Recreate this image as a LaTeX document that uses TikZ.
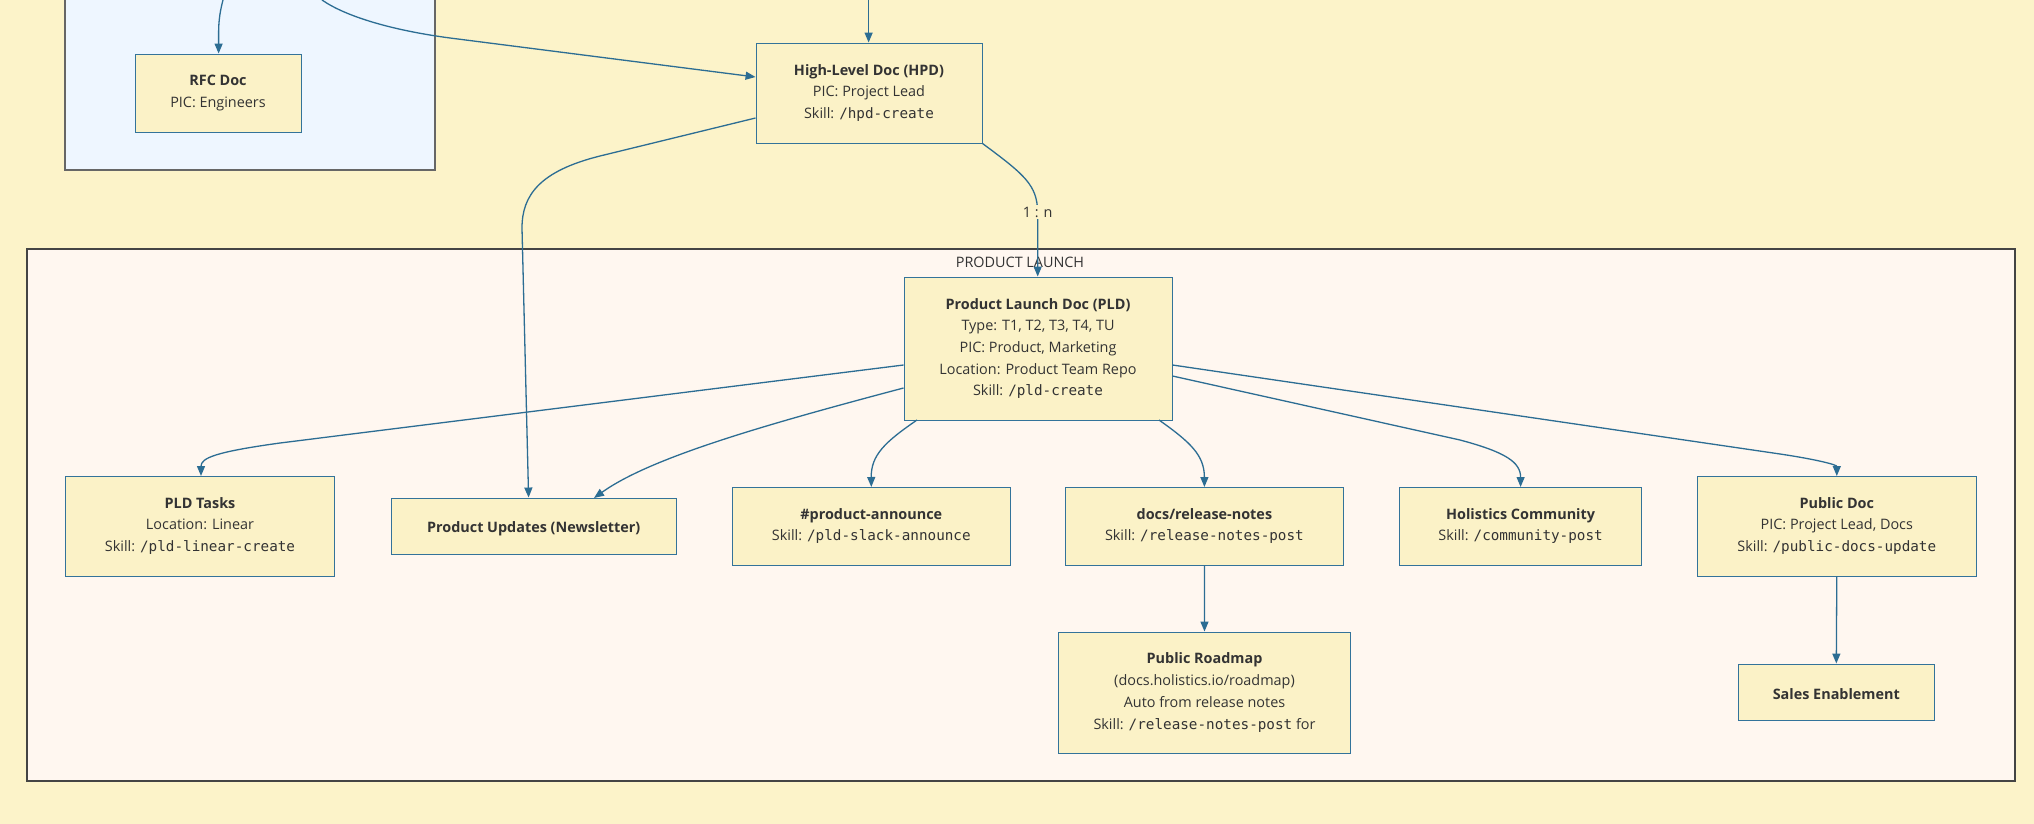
\documentclass[tikz,border=0pt]{standalone}
\usepackage{fontspec}
\setmainfont{Open Sans}
\newfontfamily\monof{DejaVu Sans Mono}
\usetikzlibrary{arrows.meta}
\definecolor{bgc}{HTML}{FCF3C9}
\definecolor{bluefill}{HTML}{EEF6FF}
\definecolor{launchfill}{HTML}{FFF7F0}
\definecolor{nodefill}{HTML}{FBF2C7}
\definecolor{boxc}{HTML}{33739A}
\definecolor{edgec}{HTML}{2C6D93}
\definecolor{txtc}{HTML}{333333}
\definecolor{clgray}{HTML}{666666}
\definecolor{cldark}{HTML}{444444}
\newcommand{\mn}[1]{{\monof\fontsize{14.3}{21.7}\selectfont #1}}
\tikzset{
  box/.style={draw=boxc, fill=nodefill, line width=0.9pt, align=center, inner sep=0pt,
    text=txtc, font=\fontsize{14.4}{21.7}\selectfont,
    execute at begin node={\rule{0pt}{15.5pt}}},
  edge/.style={draw=edgec, line width=1.3pt, -{Triangle[length=10pt,width=8pt]}},
  cluster/.style={line width=1.1pt}
}
\begin{document}
\begin{tikzpicture}[x=1pt,y=-1pt]
\useasboundingbox (0,0) rectangle (2034,824);
\fill[bgc] (0,0) rectangle (2034,824);
% clusters
\draw[cluster, draw=clgray, fill=bluefill] (65,-10) rectangle (435,170);
\draw[cluster, draw=cldark, fill=launchfill] (27,249) rectangle (2015,781);
\node[text=txtc, font=\fontsize{14.4}{16}\selectfont] (lt) at (1020,262) {PRODUCT LAUNCH};
% nodes
\node[box, minimum width=166, minimum height=78] (rfc) at (218,93) {\textbf{RFC Doc}\\PIC: Engineers};
\node[box, minimum width=226, minimum height=100] (hpd) at (869,93) {\textbf{High-Level Doc (HPD)}\\PIC: Project Lead\\Skill: \mn{/hpd-create}};
\node[box, minimum width=268, minimum height=143] (pld) at (1038,348.5) {\textbf{Product Launch Doc (PLD)}\\Type: T1, T2, T3, T4, TU\\PIC: Product, Marketing\\Location: Product Team Repo\\Skill: \mn{/pld-create}};
\node[box, minimum width=269, minimum height=100] (tasks) at (200,526) {\textbf{PLD Tasks}\\Location: Linear\\Skill: \mn{/pld-linear-create}};
\node[box, minimum width=285.5, minimum height=56] (upd) at (533.7,526) {\textbf{Product Updates (Newsletter)}};
\node[box, minimum width=277.4, minimum height=78] (ann) at (871.3,526) {\textbf{\#product-announce}\\Skill: \mn{/pld-slack-announce}};
\node[box, minimum width=278.7, minimum height=78] (rel) at (1204.4,526) {\textbf{docs/release-notes}\\Skill: \mn{/release-notes-post}};
\node[box, minimum width=242.3, minimum height=78] (comm) at (1520.6,526) {\textbf{Holistics Community}\\Skill: \mn{/community-post}};
\node[box, minimum width=278.4, minimum height=100] (pub) at (1836.8,526) {\textbf{Public Doc}\\PIC: Project Lead, Docs\\Skill: \mn{/public-docs-update}};
\node[box, minimum width=292.3, minimum height=121] (road) at (1204.5,692.5) {\textbf{Public Roadmap}\\(docs.holistics.io/roadmap)\\Auto from release notes\\Skill: \mn{/release-notes-post} for};
\node[box, minimum width=196.7, minimum height=56] (sales) at (1836.3,692) {\textbf{Sales Enablement}};
% free ends
\coordinate (t1) at (223,0);
\coordinate (t2) at (322,0);
\coordinate (t3) at (868.6,0);
% edges
\draw[edge] (t1) .. controls (219,15) and (218.6,25) .. (218.6,35) -- (rfc.north -| 218.6,0);
\draw[edge] (t2) .. controls (345,16) and (390,30) .. (450,38) -- (hpd.west |- 0,77);
\draw[edge] (t3) -- (hpd.north -| 868.6,0);
\draw[edge] (hpd.west |- 0,118) -- (600,156) .. controls (540,171) and (522,195) .. (522,228) -- (upd.north -| 528.6,0);
\draw[edge] (hpd.south east) .. controls (1025,175) and (1037,185) .. (1037.7,212) -- (pld.north -| 1037.7,0);
\node[fill=bgc, text=txtc, inner sep=1.5pt, font=\fontsize{14.4}{16}\selectfont] (lbl) at (1037.7,212) {1 : n};
\draw[edge] (pld.west |- 0,365) -- (280,443) .. controls (215,452) and (201,458) .. (201,476);
\draw[edge] (pld.west |- 0,388) .. controls (760,426) and (650,458) .. (594,498);
\draw[edge] (917,420) .. controls (885,442) and (871,455) .. (871.3,487);
\draw[edge] (1159,420) .. controls (1190,442) and (1204.4,455) .. (1204.4,487);
\draw[edge] (pld.east |- 0,376) -- (1460,440) .. controls (1505,452) and (1520.6,462) .. (1520.6,487);
\draw[edge] (pld.east |- 0,365) -- (1780,454) .. controls (1820,460) and (1836.8,465) .. (1836.8,476);
\draw[edge] (rel.south) -- (road.north);
\draw[edge] (pub.south) -- (sales.north);
\end{tikzpicture}
\end{document}
